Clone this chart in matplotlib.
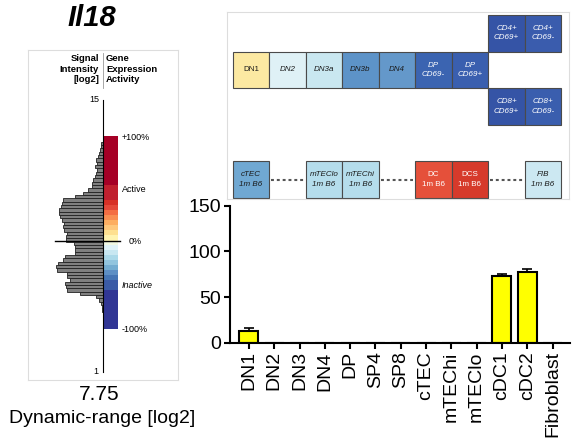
import numpy as np
import matplotlib
matplotlib.use('Agg')
import matplotlib.pyplot as plt

plt.rcParams['font.family'] = ['Liberation Sans', 'DejaVu Sans']

W, H = 572, 444

# --- data: gene Il18 ---
gene = 'Il18'
dyn_range = 7.75

# signal intensity histogram (log2 bins, top to bottom), counts in arbitrary units
hist_top = 12.77
hist_step = 0.1715
hist_counts = [1.5, 1.5, 3, 4, 4.5, 6.5, 6, 7.5, 6, 6.5, 7.5, 9.5, 11, 11, 14.5, 20, 27.5,
               40, 40.5, 42, 44, 44, 42.5, 41, 38.5, 39.5, 38.5, 35.5, 36.5, 36.5, 28.5,
               27.5, 27.5, 27.5, 37.5, 39.5, 44.5, 46.5, 46, 35.5, 35.5, 32.5, 37.5, 36.5,
               36, 22.5, 6.5, 3.5, 1.5, 1, 1]

# activity colour scale, band edges in log2 intensity (top to bottom)
cb_edges = [13.15, 10.63, 9.85, 9.60, 9.34, 9.08, 8.82, 8.57, 8.31, 8.05, 7.75,
            7.54, 7.28, 7.02, 6.77, 6.51, 6.25, 5.99, 5.74, 5.22, 3.20]
cb_colors = ['#A50026', '#C0202F', '#D73027', '#E4493A', '#F46D43', '#F98E52',
             '#FDAE61', '#FEC87C', '#FEE090', '#FFF4B0',
             '#F1F8E2', '#E0F3F8', '#C8E7F1', '#ABD9E9', '#92C5DE', '#74ADD1',
             '#5D8FC4', '#4575B4', '#3B5BA6', '#313695']

# population schematic
box_labels = ['DN1', 'DN2', 'DN3a', 'DN3b', 'DN4', 'DP\nCD69-', 'DP\nCD69+',
              'CD4+\nCD69+', 'CD4+\nCD69-', 'CD8+\nCD69+', 'CD8+\nCD69-',
              'cTEC\n1m B6', 'mTEClo\n1m B6', 'mTEChi\n1m B6', 'DC\n1m B6', 'DCS\n1m B6', 'FIB\n1m B6']
box_cols = [0, 1, 2, 3, 4, 5, 6, 7, 8, 7, 8, 0, 2, 3, 5, 6, 8]
box_rows = [1, 1, 1, 1, 1, 1, 1, 0, 0, 2, 2, 4, 4, 4, 4, 4, 4]
box_colors = ['#FCE9A2', '#DFF1F6', '#C9E7F0', '#5D93C8', '#6498CA', '#3B64B1', '#3A5FAF',
              '#3554A6', '#3A5CAD', '#3554A6', '#3A5EAE',
              '#70A8D2', '#B5DDEC', '#B5DDEC', '#E5503A', '#D63A2B', '#CCE8F2']
dark_boxes = ['DP\nCD69-', 'DP\nCD69+', 'CD4+\nCD69+', 'CD4+\nCD69-', 'CD8+\nCD69+',
              'CD8+\nCD69-', 'DC\n1m B6', 'DCS\n1m B6']
upright_boxes = ['DN1', 'DC\n1m B6', 'DCS\n1m B6']
gap_cols = [1, 4, 7]

# expression per cell type
cells = ['DN1', 'DN2', 'DN3', 'DN4', 'DP', 'SP4', 'SP8', 'cTEC', 'mTEChi', 'mTEClo',
         'cDC1', 'cDC2', 'Fibroblast']
expr = [12.8, 0, 0, 0, 0, 0, 0, 0, 0, 0, 72.6, 77.7, 0]
expr_err = [3.6, 0, 0, 0, 0, 0, 0, 0, 0, 0, 2.2, 2.6, 0]


def fx(px):
    return px / W


def fy(py):
    return 1 - py / H


fig = plt.figure(figsize=(W / 100, H / 100), dpi=100)
fig.patch.set_facecolor('white')

# ---------------- left panel: intensity histogram + activity scale
ax_l = fig.add_axes([fx(28), fy(380), 150 / W, 330 / H])
px_per_unit = 19.43
ax_l.set_xlim(-74.5, 75.5)
ax_l.set_ylim(15 - 280 / px_per_unit, 15 + 50 / px_per_unit)
ax_l.set_xticks([])
ax_l.set_yticks([])
for s in ax_l.spines.values():
    s.set_color('#DDDDDD')
    s.set_linewidth(0.8)

centers = hist_top - hist_step * np.arange(len(hist_counts))
ax_l.barh(centers, -np.array(hist_counts), height=hist_step, left=0,
          color='#808080', edgecolor='#222222', linewidth=0.6, zorder=2)

for i, c in enumerate(cb_colors):
    top, bot = cb_edges[i], cb_edges[i + 1]
    ax_l.barh((top + bot) / 2, 15.5, height=top - bot, left=0, color=c,
              linewidth=0, zorder=2)

ax_l.plot([0, 0], [1, 15], color='black', lw=0.8, zorder=3)
ax_l.plot([-47.5, 17.5], [dyn_range, dyn_range], color='black', lw=1.0, zorder=3)
ax_l.plot([0, 0], [15 + 12 / px_per_unit, 15 + 47 / px_per_unit], color='#999999', lw=0.6)

fig.text(fx(92), fy(18), gene, ha='center', va='center', fontsize=21,
         fontweight='bold', fontstyle='italic')
fig.text(fx(99), fy(54), 'Signal\nIntensity\n[log2]', ha='right', va='top',
         fontsize=6.8, fontweight='bold', linespacing=1.25)
fig.text(fx(106), fy(54), 'Gene\nExpression\nActivity', ha='left', va='top',
         fontsize=6.8, fontweight='bold', linespacing=1.25)
fig.text(fx(99), fy(100), '15', ha='right', va='center', fontsize=6.5)
fig.text(fx(98), fy(371), '1', ha='right', va='center', fontsize=6.5)
fig.text(fx(122), fy(137), '+100%', ha='left', va='center', fontsize=6.5)
fig.text(fx(122), fy(189), 'Active', ha='left', va='center', fontsize=6.5)
fig.text(fx(129), fy(241), '0%', ha='left', va='center', fontsize=6.5)
fig.text(fx(122), fy(285), 'Inactive', ha='left', va='center', fontsize=6.5,
         fontstyle='italic')
fig.text(fx(122), fy(329), '-100%', ha='left', va='center', fontsize=6.5)
fig.text(fx(99), fy(394), f'{dyn_range:.2f}', ha='center', va='center', fontsize=15)
fig.text(fx(102), fy(418), 'Dynamic-range [log2]', ha='center', va='center', fontsize=14)

# ---------------- schematic of populations
ax_s = fig.add_axes([fx(227), fy(199), 342 / W, 187 / H])
ax_s.set_xlim(-0.156, 9.214)
ax_s.set_ylim(5.03, -0.082)
ax_s.set_xticks([])
ax_s.set_yticks([])
for s in ax_s.spines.values():
    s.set_color('#DDDDDD')
    s.set_linewidth(0.8)

ax_s.bar(box_cols, 1, width=1, bottom=box_rows, align='edge', color=box_colors,
         edgecolor='#4A4A4A', linewidth=0.8, zorder=2)
for lab, c, r in zip(box_labels, box_cols, box_rows):
    ax_s.text(c + 0.5, r + 0.5, lab, ha='center', va='center', fontsize=5.8,
              color='white' if lab in dark_boxes else '#1A1A1A',
              fontstyle='normal' if lab in upright_boxes else 'italic',
              linespacing=1.45, zorder=3)
for g in gap_cols:
    ax_s.plot([g + 0.05, g + 0.95], [4.5, 4.5], color='#555555', lw=1.5,
              ls=(0, (1.4, 1.4)), zorder=2)

# ---------------- bar chart
ax_b = fig.add_axes([fx(230), fy(342.7), 340 / W, 137 / H])
x = np.arange(len(cells))
ax_b.bar(x, expr, width=0.75, color='#FFFF00', edgecolor='black', linewidth=1.5, zorder=2)
err_idx = [i for i, e in enumerate(expr_err) if e > 0]
ax_b.errorbar([x[i] for i in err_idx], [expr[i] for i in err_idx],
              yerr=[[0] * len(err_idx), [expr_err[i] for i in err_idx]],
              fmt='none', ecolor='black', elinewidth=1.2, capsize=3.3, capthick=1.2, zorder=3)
ax_b.set_xlim(-0.75, 12.69)
ax_b.set_ylim(0, 150)
ax_b.set_yticks([0, 50, 100, 150])
ax_b.set_xticks(x)
ax_b.set_xticklabels(cells, rotation=90)
ax_b.tick_params(axis='both', labelsize=14, width=1.5, length=4.2, pad=2)
for side in ['top', 'right']:
    ax_b.spines[side].set_visible(False)
for side in ['left', 'bottom']:
    ax_b.spines[side].set_linewidth(1.5)
ax_b.patch.set_alpha(0)

plt.savefig('out.png', dpi=100)
